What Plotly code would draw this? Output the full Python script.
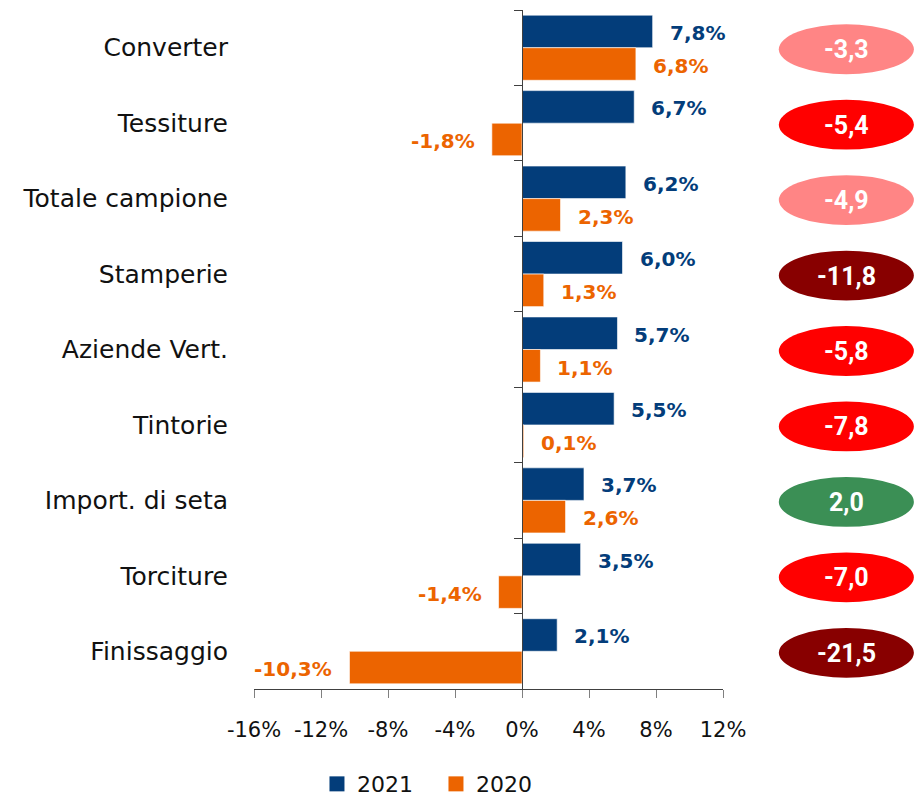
import plotly.graph_objects as go

categories = ["Converter", "Tessiture", "Totale campione", "Stamperie", "Aziende Vert.",
              "Tintorie", "Import. di seta", "Torciture", "Finissaggio"]
values_2021 = [7.8, 6.7, 6.2, 6.0, 5.7, 5.5, 3.7, 3.5, 2.1]
values_2020 = [6.8, -1.8, 2.3, 1.3, 1.1, 0.1, 2.6, -1.4, -10.3]
badge_values = [-3.3, -5.4, -4.9, -11.8, -5.8, -7.8, 2.0, -7.0, -21.5]
x_ticks = [-16, -12, -8, -4, 0, 4, 8, 12]

colors = {'2021': '#033d7a', '2020': '#ec6400'}
font_txt = "DejaVu Sans"


def fmt(v):
    return "{:.1f}".format(v).replace(".", ",")


def badge_color(v):
    if v >= 0:
        return "#3b8f55"
    elif v > -5:
        return "#ff8585"
    elif v > -10:
        return "#ff0000"
    return "#880000"


fig = go.Figure()

for name, vals in [("2021", values_2021), ("2020", values_2020)]:
    fig.add_trace(go.Bar(name=name, y=categories, x=vals, orientation="h",
                         marker_color=colors[name],
                         marker_line=dict(color="rgba(255,255,255,0.6)", width=1),
                         showlegend=False, legendgroup=name, hoverinfo="x+y"))
# legend proxies with bigger square swatches
for name in ["2021", "2020"]:
    fig.add_trace(go.Scatter(name=name, x=[None], y=[None], mode="markers",
                             marker=dict(symbol="square", size=15, color=colors[name]),
                             legendgroup=name, showlegend=True))
# invisible helper so the zero axis (y2) gets drawn
fig.add_trace(go.Scatter(y=categories, x=[0] * len(categories), yaxis="y2", mode="markers",
                         marker=dict(opacity=0), showlegend=False, hoverinfo="skip"))

annotations = []
for cat, v21, v20, b in zip(categories, values_2021, values_2020, badge_values):
    for v, key, ysh in [(v21, '2021', 15), (v20, '2020', -18)]:
        annotations.append(dict(
            x=v, y=cat, xref="x", yref="y", text=fmt(v) + "%", showarrow=False,
            xanchor="left" if v >= 0 else "right", xshift=15 if v >= 0 else -15,
            yshift=ysh, font=dict(family=font_txt, size=20, color=colors[key], weight="bold")))
    annotations.append(dict(
        x=1.263, y=cat, xref="paper", yref="y", text=fmt(b), showarrow=False,
        xanchor="center", yshift=-2,
        font=dict(family="Roboto", size=25, color="white", weight="bold")))

shapes = []
for i, b in enumerate(badge_values):
    shapes.append(dict(type="circle", xref="paper", yref="y",
                       x0=1.119, x1=1.407, y0=i - 0.31, y1=i + 0.35,
                       fillcolor=badge_color(b), line=dict(width=0), layer="above"))

fig.update_layout(
    # page body adds 8px, so size and margins are trimmed to land the plot where the original sits
    width=915, height=789,
    margin=dict(l=246, r=200, t=2, b=108, autoexpand=False),
    plot_bgcolor="white", paper_bgcolor="white",
    barmode="group", bargap=0.137, bargroupgap=0,
    font=dict(family=font_txt, size=22, color="#111111"),
    showlegend=True,
    legend=dict(orientation="h", x=0.388, xanchor="center", y=-0.140, yanchor="middle",
                font=dict(size=22), itemwidth=30, entrywidth=74),
    annotations=annotations, shapes=shapes,
    xaxis=dict(range=[-16, 12], tickvals=x_ticks,
               ticktext=["{}%".format(t) for t in x_ticks],
               showgrid=False, zeroline=False, showline=True, linecolor="#404040",
               ticks="outside", ticklen=8, tickcolor="#808080",
               tickfont=dict(size=21), ticklabelstandoff=14, fixedrange=True),
    yaxis=dict(autorange="reversed", showgrid=False, zeroline=False, showline=False,
               ticks="outside", ticklen=20, tickcolor="rgba(0,0,0,0)",
               tickfont=dict(size=25)),
    yaxis2=dict(overlaying="y", matches="y", anchor="free", position=16 / 28,
                side="left", showticklabels=False, showgrid=False, zeroline=False,
                showline=True, linecolor="#404040", linewidth=1,
                ticks="outside", ticklen=8, tickcolor="#404040", tickson="boundaries"),
)

fig.write_html("out.html")
